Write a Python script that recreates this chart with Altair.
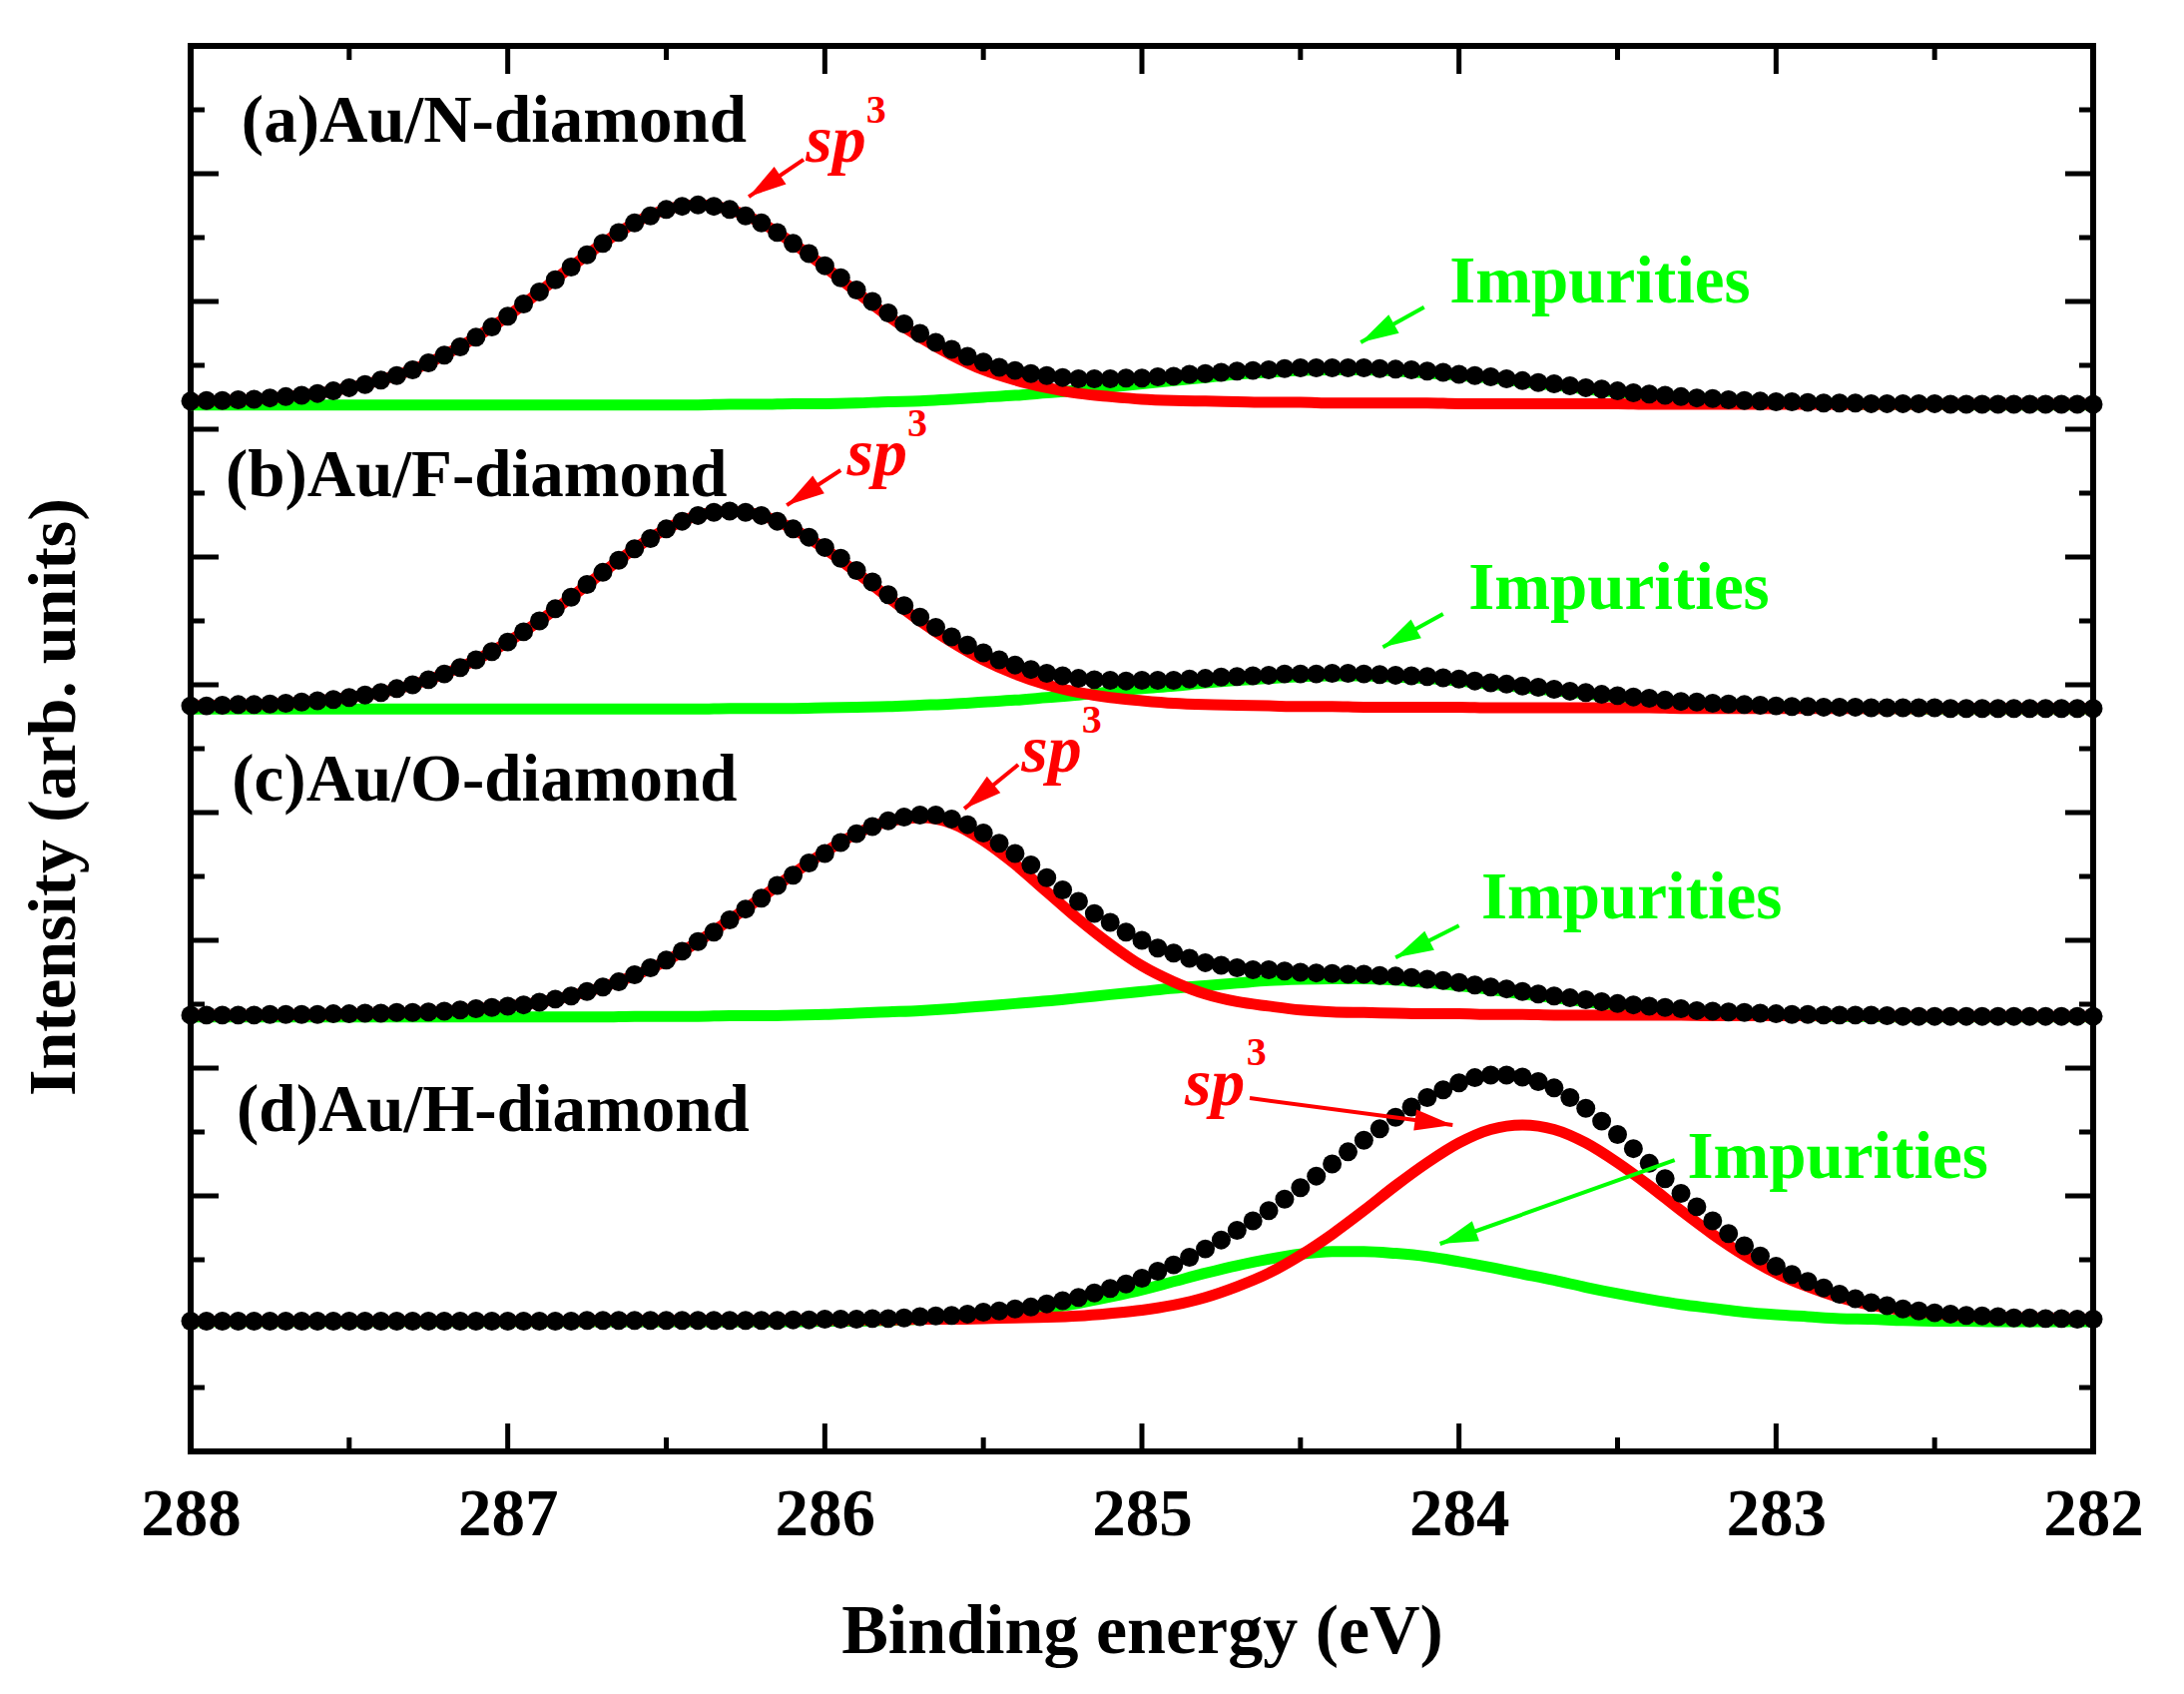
import math
import altair as alt
import pandas as pd

# ---------------- layout constants ----------------
W, H = 1906, 1408
E_LEFT, E_RIGHT = 288.0, 282.0
Y_TOP = 22.0
PX_X = W / (E_LEFT - E_RIGHT)
PX_Y = H / Y_TOP
FONT = "Liberation Serif"

# ---------------- data ----------------
panels = ["a", "b", "c", "d"]
baselines = [16.38, 11.62, 6.80, 2.03]   # vertical offset of each stacked spectrum

# measured points, 288.00 -> 282.00 eV, step 0.05 eV (height above own baseline)
dots_a = [
    0.06, 0.07, 0.07, 0.08, 0.09, 0.11, 0.13, 0.15, 0.18, 0.22,
    0.27, 0.32, 0.39, 0.46, 0.55, 0.66, 0.78, 0.91, 1.06, 1.22,
    1.39, 1.58, 1.77, 1.96, 2.16, 2.35, 2.53, 2.70, 2.85, 2.96,
    3.06, 3.11, 3.13, 3.11, 3.06, 2.96, 2.85, 2.70, 2.53, 2.37,
    2.18, 1.99, 1.80, 1.62, 1.44, 1.27, 1.12, 0.98, 0.87, 0.76,
    0.67, 0.59, 0.54, 0.49, 0.46, 0.43, 0.41, 0.41, 0.41, 0.42,
    0.42, 0.44, 0.45, 0.48, 0.49, 0.51, 0.53, 0.54, 0.55, 0.57,
    0.58, 0.58, 0.58, 0.58, 0.58, 0.57, 0.56, 0.55, 0.53, 0.51,
    0.48, 0.46, 0.44, 0.41, 0.38, 0.35, 0.33, 0.30, 0.27, 0.25,
    0.22, 0.19, 0.17, 0.15, 0.13, 0.11, 0.10, 0.08, 0.07, 0.06,
    0.05, 0.05, 0.04, 0.03, 0.03, 0.03, 0.02, 0.02, 0.02, 0.02,
    0.02, 0.01, 0.01, 0.01, 0.01, 0.01, 0.01, 0.01, 0.01, 0.01,
    0.01]
dots_b = [
    0.05, 0.05, 0.06, 0.07, 0.07, 0.08, 0.09, 0.11, 0.13, 0.15,
    0.18, 0.22, 0.26, 0.32, 0.38, 0.46, 0.55, 0.65, 0.77, 0.90,
    1.05, 1.21, 1.38, 1.57, 1.75, 1.95, 2.14, 2.33, 2.51, 2.67,
    2.82, 2.94, 3.03, 3.08, 3.10, 3.08, 3.03, 2.94, 2.82, 2.69,
    2.53, 2.36, 2.17, 1.99, 1.79, 1.62, 1.44, 1.28, 1.13, 1.00,
    0.88, 0.77, 0.69, 0.62, 0.56, 0.52, 0.48, 0.46, 0.45, 0.44,
    0.45, 0.45, 0.45, 0.47, 0.48, 0.50, 0.51, 0.52, 0.53, 0.55,
    0.55, 0.55, 0.56, 0.56, 0.55, 0.54, 0.53, 0.52, 0.51, 0.49,
    0.47, 0.44, 0.41, 0.39, 0.36, 0.34, 0.31, 0.28, 0.26, 0.23,
    0.21, 0.19, 0.17, 0.14, 0.12, 0.11, 0.09, 0.08, 0.07, 0.06,
    0.05, 0.04, 0.04, 0.03, 0.03, 0.03, 0.02, 0.02, 0.02, 0.02,
    0.02, 0.01, 0.01, 0.01, 0.01, 0.01, 0.01, 0.01, 0.01, 0.01,
    0.01]
dots_c = [
    0.03, 0.03, 0.03, 0.03, 0.03, 0.04, 0.04, 0.04, 0.04, 0.05,
    0.05, 0.06, 0.06, 0.07, 0.07, 0.08, 0.09, 0.11, 0.13, 0.15,
    0.17, 0.19, 0.23, 0.28, 0.33, 0.40, 0.47, 0.55, 0.66, 0.77,
    0.89, 1.03, 1.18, 1.33, 1.52, 1.69, 1.86, 2.06, 2.22, 2.41,
    2.56, 2.73, 2.87, 2.98, 3.07, 3.13, 3.16, 3.16, 3.10, 3.01,
    2.88, 2.72, 2.56, 2.38, 2.18, 1.99, 1.81, 1.62, 1.48, 1.33,
    1.20, 1.08, 1.00, 0.92, 0.85, 0.81, 0.77, 0.74, 0.74, 0.72,
    0.70, 0.69, 0.68, 0.67, 0.67, 0.65, 0.64, 0.62, 0.59, 0.57,
    0.54, 0.50, 0.47, 0.44, 0.40, 0.36, 0.33, 0.30, 0.27, 0.24,
    0.21, 0.19, 0.17, 0.15, 0.13, 0.10, 0.09, 0.08, 0.07, 0.06,
    0.05, 0.04, 0.04, 0.03, 0.03, 0.03, 0.03, 0.02, 0.01, 0.01,
    0.01, 0.01, 0.01, 0.01, 0.01, 0.01, 0.01, 0.01, 0.01, 0.01,
    0.01]
dots_d = [
    0.01, 0.01, 0.01, 0.01, 0.01, 0.01, 0.01, 0.01, 0.01, 0.01,
    0.01, 0.01, 0.01, 0.01, 0.01, 0.01, 0.01, 0.01, 0.01, 0.01,
    0.01, 0.01, 0.01, 0.01, 0.01, 0.02, 0.02, 0.02, 0.02, 0.02,
    0.02, 0.02, 0.02, 0.02, 0.02, 0.02, 0.02, 0.02, 0.03, 0.03,
    0.04, 0.04, 0.04, 0.05, 0.05, 0.06, 0.08, 0.09, 0.10, 0.12,
    0.15, 0.17, 0.20, 0.23, 0.28, 0.33, 0.38, 0.45, 0.52, 0.59,
    0.68, 0.79, 0.89, 1.01, 1.14, 1.28, 1.43, 1.58, 1.74, 1.92,
    2.10, 2.28, 2.47, 2.66, 2.84, 3.02, 3.20, 3.36, 3.51, 3.63,
    3.74, 3.82, 3.86, 3.86, 3.83, 3.76, 3.66, 3.51, 3.34, 3.14,
    2.93, 2.71, 2.48, 2.24, 2.01, 1.80, 1.58, 1.38, 1.19, 1.03,
    0.87, 0.74, 0.63, 0.53, 0.43, 0.36, 0.30, 0.25, 0.20, 0.17,
    0.14, 0.12, 0.10, 0.09, 0.08, 0.06, 0.06, 0.05, 0.05, 0.04,
    0.04]

# fitted components, 288.0 -> 282.0 eV, step 0.1 eV
red_a = [
    0.06, 0.07, 0.09, 0.13, 0.18, 0.27, 0.39, 0.55, 0.78, 1.06,
    1.39, 1.77, 2.16, 2.53, 2.85, 3.06, 3.13, 3.06, 2.85, 2.53,
    2.16, 1.77, 1.39, 1.06, 0.78, 0.55, 0.39, 0.27, 0.18, 0.13,
    0.09, 0.07, 0.06, 0.05, 0.04, 0.04, 0.03, 0.03, 0.03, 0.03,
    0.02, 0.02, 0.02, 0.02, 0.02, 0.02, 0.01, 0.01, 0.01, 0.01,
    0.01, 0.01, 0.01, 0.01, 0.01, 0.01, 0.01, 0.01, 0.01, 0.01,
    0.01]
green_a = [
    0, 0, 0, 0, 0, 0, 0, 0, 0, 0,
    0, 0, 0, 0, 0, 0, 0, 0.01, 0.01, 0.02,
    0.02, 0.03, 0.05, 0.06, 0.09, 0.12, 0.15, 0.19, 0.23, 0.28,
    0.33, 0.38, 0.43, 0.48, 0.51, 0.54, 0.55, 0.55, 0.53, 0.50,
    0.46, 0.42, 0.36, 0.31, 0.25, 0.20, 0.16, 0.12, 0.09, 0.06,
    0.04, 0.03, 0.02, 0.01, 0.01, 0.01, 0, 0, 0, 0,
    0]
red_b = [
    0.05, 0.06, 0.07, 0.09, 0.13, 0.18, 0.26, 0.38, 0.55, 0.77,
    1.05, 1.38, 1.75, 2.14, 2.51, 2.82, 3.03, 3.10, 3.03, 2.82,
    2.51, 2.14, 1.75, 1.38, 1.05, 0.77, 0.55, 0.38, 0.26, 0.18,
    0.13, 0.09, 0.07, 0.06, 0.05, 0.04, 0.04, 0.03, 0.03, 0.03,
    0.03, 0.02, 0.02, 0.02, 0.02, 0.02, 0.02, 0.01, 0.01, 0.01,
    0.01, 0.01, 0.01, 0.01, 0.01, 0.01, 0.01, 0.01, 0.01, 0.01,
    0.01]
green_b = [
    0, 0, 0, 0, 0, 0, 0, 0, 0, 0,
    0, 0, 0, 0, 0, 0, 0, 0.01, 0.01, 0.01,
    0.02, 0.03, 0.04, 0.06, 0.08, 0.11, 0.14, 0.18, 0.22, 0.27,
    0.32, 0.36, 0.41, 0.45, 0.48, 0.51, 0.52, 0.52, 0.50, 0.48,
    0.44, 0.39, 0.34, 0.29, 0.24, 0.19, 0.15, 0.11, 0.08, 0.06,
    0.04, 0.03, 0.02, 0.01, 0.01, 0, 0, 0, 0, 0,
    0]
red_c = [
    0.03, 0.03, 0.03, 0.04, 0.04, 0.05, 0.06, 0.07, 0.09, 0.13,
    0.17, 0.23, 0.33, 0.47, 0.65, 0.88, 1.18, 1.52, 1.87, 2.24,
    2.58, 2.87, 3.06, 3.12, 3.03, 2.76, 2.39, 1.96, 1.53, 1.14,
    0.80, 0.55, 0.36, 0.24, 0.17, 0.11, 0.08, 0.07, 0.06, 0.05,
    0.05, 0.04, 0.04, 0.03, 0.03, 0.03, 0.03, 0.03, 0.02, 0.02,
    0.02, 0.02, 0.02, 0.02, 0.01, 0.01, 0.01, 0.01, 0.01, 0.01,
    0.01]
green_c = [
    0, 0, 0, 0, 0, 0, 0, 0, 0, 0,
    0, 0, 0, 0, 0.01, 0.01, 0.01, 0.02, 0.02, 0.03,
    0.04, 0.06, 0.08, 0.10, 0.13, 0.17, 0.21, 0.25, 0.30, 0.35,
    0.40, 0.45, 0.49, 0.53, 0.57, 0.59, 0.60, 0.60, 0.58, 0.54,
    0.49, 0.43, 0.36, 0.30, 0.24, 0.18, 0.14, 0.10, 0.07, 0.05,
    0.03, 0.02, 0.01, 0.01, 0, 0, 0, 0, 0, 0,
    0]
red_d = [
    0.01, 0.01, 0.01, 0.01, 0.01, 0.01, 0.01, 0.01, 0.01, 0.01,
    0.01, 0.01, 0.01, 0.02, 0.02, 0.02, 0.02, 0.02, 0.02, 0.03,
    0.03, 0.03, 0.03, 0.04, 0.04, 0.05, 0.06, 0.07, 0.09, 0.13,
    0.18, 0.26, 0.38, 0.55, 0.76, 1.04, 1.37, 1.74, 2.13, 2.49,
    2.80, 3.01, 3.08, 3.01, 2.80, 2.49, 2.13, 1.74, 1.37, 1.04,
    0.76, 0.55, 0.38, 0.26, 0.18, 0.13, 0.09, 0.07, 0.06, 0.05,
    0.04]
green_d = [
    0, 0, 0, 0, 0, 0, 0, 0, 0, 0,
    0, 0, 0, 0, 0, 0, 0, 0, 0, 0,
    0.01, 0.01, 0.02, 0.04, 0.06, 0.10, 0.14, 0.21, 0.29, 0.39,
    0.50, 0.63, 0.76, 0.88, 0.98, 1.06, 1.10, 1.10, 1.07, 1.02,
    0.94, 0.85, 0.75, 0.65, 0.54, 0.44, 0.35, 0.27, 0.21, 0.15,
    0.11, 0.08, 0.05, 0.04, 0.02, 0.01, 0.01, 0, 0, 0,
    0]

dots = [dots_a, dots_b, dots_c, dots_d]
reds = [red_a, red_b, red_c, red_d]
greens = [green_a, green_b, green_c, green_d]

# annotation texts and positions (energy, intensity)
label_text = ["(a)Au/N-diamond", "(b)Au/F-diamond", "(c)Au/O-diamond", "(d)Au/H-diamond"]
label_E = [287.84, 287.89, 287.87, 287.855]
label_I = [20.50, 14.95, 10.19, 5.02]

sp_E = [286.06, 285.93, 285.38, 284.865]
sp_I = [20.19, 15.28, 10.64, 5.42]
sup_E = [285.87, 285.74, 285.19, 284.67]
sup_I = [20.80, 15.89, 11.25, 6.05]

imp_E = [284.03, 283.97, 283.93, 283.28]
imp_I = [17.98, 13.19, 8.34, 4.28]

# arrows: start -> tip
sp_arrow = [((286.067, 20.22), (286.24, 19.64)),
            ((285.95, 15.36), (286.12, 14.81)),
            ((285.39, 10.75), (285.56, 10.06)),
            ((284.66, 5.53), (284.02, 5.11))]
imp_arrow = [((284.11, 17.91), (284.31, 17.36)),
             ((284.05, 13.11), (284.24, 12.59)),
             ((284.00, 8.23), (284.20, 7.73)),
             ((283.32, 4.56), (284.06, 3.25))]

RED, GREEN, BLACK = "#FF0000", "#00FF00", "#000000"

# ---------------- tables ----------------
for lst in dots:
    assert len(lst) == 121, len(lst)
for lst in reds + greens:
    assert len(lst) == 61, len(lst)

E_dot = [round(E_LEFT - 0.05 * i, 2) for i in range(121)]
E_fit = [round(E_LEFT - 0.10 * i, 2) for i in range(61)]

dot_rows, fit_rows = [], []
for p, base, d, r, g in zip(panels, baselines, dots, reds, greens):
    for e, v in zip(E_dot, d):
        dot_rows.append({"E": e, "I": base + v, "panel": p})
    for e, v in zip(E_fit, r):
        fit_rows.append({"E": e, "I": base + v, "panel": p, "comp": "red"})
    for e, v in zip(E_fit, g):
        fit_rows.append({"E": e, "I": base + v, "panel": p, "comp": "green"})
df_dots = pd.DataFrame(dot_rows)
df_fit = pd.DataFrame(fit_rows)

# inward ticks on all four sides
major_x = [287, 286, 285, 284, 283]
minor_x = [287.5, 286.5, 285.5, 284.5, 283.5, 282.5]
major_y = list(range(2, 22, 2))
minor_y = list(range(1, 22, 2))
LONG, SHORT = 28, 14
tick_rows = []
for e in major_x + minor_x:
    L = (LONG if e in major_x else SHORT) / PX_Y
    tick_rows.append({"E": e, "E2": e, "I": 0.0, "I2": L})
    tick_rows.append({"E": e, "E2": e, "I": Y_TOP, "I2": Y_TOP - L})
for v in major_y + minor_y:
    L = (LONG if v in major_y else SHORT) / PX_X
    tick_rows.append({"E": E_LEFT, "E2": E_LEFT - L, "I": v, "I2": v})
    tick_rows.append({"E": E_RIGHT, "E2": E_RIGHT + L, "I": v, "I2": v})
df_ticks = pd.DataFrame(tick_rows)

arrow_rows, head_rows = [], []
for arrows, col in ((sp_arrow, RED), (imp_arrow, GREEN)):
    for (e0, i0), (e1, i1) in arrows:
        arrow_rows.append({"E": e0, "I": i0, "E2": e1, "I2": i1, "col": col})
        dx = -(e1 - e0) * PX_X
        dy = -(i1 - i0) * PX_Y
        ang = math.degrees(math.atan2(dy, dx)) % 360
        head_rows.append({"E": e1, "I": i1, "ang": ang, "col": col})
df_arrows = pd.DataFrame(arrow_rows)
df_heads = pd.DataFrame(head_rows)

df_labels = pd.DataFrame({"E": label_E, "I": label_I, "t": label_text})
df_sp = pd.DataFrame({"E": sp_E, "I": sp_I, "t": ["sp"] * 4})
df_sup = pd.DataFrame({"E": sup_E, "I": sup_I, "t": ["3"] * 4})
df_imp = pd.DataFrame({"E": imp_E, "I": imp_I, "t": ["Impurities"] * 4})

# ---------------- encodings ----------------
xs = alt.Scale(domain=[E_RIGHT, E_LEFT], reverse=True, nice=False, zero=False)
ys = alt.Scale(domain=[0, Y_TOP], nice=False, zero=False)
xaxis = alt.Axis(values=[288, 287, 286, 285, 284, 283, 282], format="d",
                 title="Binding energy (eV)", ticks=False, domain=False, grid=False,
                 labelFlush=False, labelOverlap=False, labelPadding=83,
                 labelBaseline="alphabetic", labelFont=FONT, labelFontSize=67,
                 labelFontWeight="bold", labelColor=BLACK,
                 titleFont=FONT, titleFontSize=70, titleFontWeight="bold",
                 titleColor=BLACK, titleX=W / 2, titleY=201,
                 titleBaseline="alphabetic", titleAlign="center")
yaxis = alt.Axis(labels=False, ticks=False, domain=False, grid=False,
                 title="Intensity (arb. units)", titleFont=FONT, titleFontSize=68,
                 titleFontWeight="bold", titleColor=BLACK, titleAngle=270,
                 titleX=-137, titleY=752, titleBaseline="middle", titleAlign="center")


def X():
    return alt.X("E:Q", scale=xs, axis=xaxis)


def Y():
    return alt.Y("I:Q", scale=ys, axis=yaxis)


ticks = alt.Chart(df_ticks).mark_rule(color=BLACK, strokeWidth=5).encode(
    x=X(), y=Y(), x2="E2:Q", y2="I2:Q")

green_lines = alt.Chart(df_fit[df_fit.comp == "green"]).mark_line(
    color=GREEN, strokeWidth=11, interpolate="monotone").encode(
    x=X(), y=Y(), detail="panel:N")
red_lines = alt.Chart(df_fit[df_fit.comp == "red"]).mark_line(
    color=RED, strokeWidth=11, interpolate="monotone").encode(
    x=X(), y=Y(), detail="panel:N")

points = alt.Chart(df_dots).mark_circle(size=360, color=BLACK, opacity=1).encode(
    x=X(), y=Y())

arrow_lines = alt.Chart(df_arrows).mark_rule(strokeWidth=4).encode(
    x=X(), y=Y(), x2="E2:Q", y2="I2:Q", color=alt.Color("col:N", scale=None))

ARROW = "M0,0 L-1,-0.28 L-1,0.28 Z"
heads = alt.Chart(df_heads).mark_point(shape=ARROW, filled=True, size=5776,
                                       opacity=1, strokeWidth=0).encode(
    x=X(), y=Y(), angle=alt.Angle("ang:Q", scale=None),
    color=alt.Color("col:N", scale=None))

labels = alt.Chart(df_labels).mark_text(
    font=FONT, fontWeight="bold", fontSize=67, align="left",
    baseline="alphabetic", color=BLACK).encode(x=X(), y=Y(), text="t:N")
sp_txt = alt.Chart(df_sp).mark_text(
    font=FONT, fontWeight="bold", fontStyle="italic", fontSize=68, align="left",
    baseline="alphabetic", color=RED).encode(x=X(), y=Y(), text="t:N")
sup_txt = alt.Chart(df_sup).mark_text(
    font=FONT, fontWeight="bold", fontSize=40, align="left",
    baseline="alphabetic", color=RED).encode(x=X(), y=Y(), text="t:N")
imp_txt = alt.Chart(df_imp).mark_text(
    font=FONT, fontWeight="bold", fontSize=67, align="left",
    baseline="alphabetic", color=GREEN).encode(x=X(), y=Y(), text="t:N")

chart = alt.layer(
    ticks, green_lines, red_lines, points, arrow_lines, heads,
    labels, sp_txt, sup_txt, imp_txt
).properties(
    width=W, height=H,
    padding={"left": 183, "top": 38, "right": 83, "bottom": 235},
    autosize=alt.AutoSizeParams(type="none"),
    background="white",
).configure_view(stroke=BLACK, strokeWidth=6)

chart.save("out.html", embed_options={"renderer": "svg", "actions": False})
